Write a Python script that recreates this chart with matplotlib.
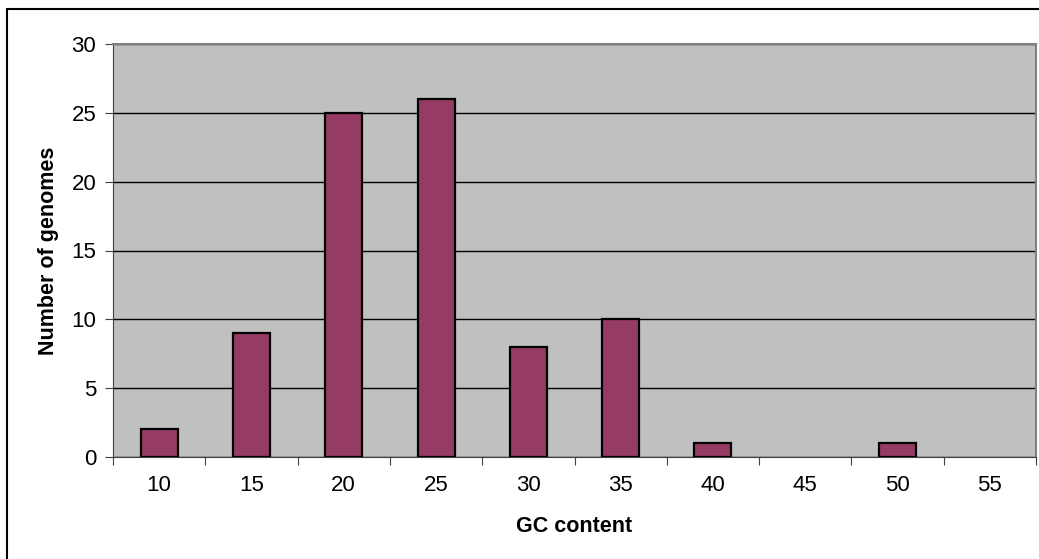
import numpy as np
import matplotlib.pyplot as plt
from matplotlib.patches import Rectangle

plt.rcParams['font.family'] = ['Liberation Sans', 'DejaVu Sans']

# data
gc_bins = ["10", "15", "20", "25", "30", "35", "40", "45", "50", "55"]
genome_counts = [2, 9, 25, 26, 8, 10, 1, 0, 1, 0]
y_ticks = [0, 5, 10, 15, 20, 25, 30]

W, H = 1039, 559
fig = plt.figure(figsize=(W / 100, H / 100), dpi=100)

# outer chart frame (Excel style)
fig.patches.append(Rectangle((7 / W, -0.1), 1.2, 1 - 9 / H + 0.1,
                             transform=fig.transFigure, fill=False,
                             edgecolor="black", linewidth=1.5))

ax = fig.add_axes([113 / W, 1 - 457 / H, (1036 - 113) / W, (457 - 44) / H])
ax.set_facecolor("#c0c0c0")

x = np.arange(len(gc_bins))
counts = np.array(genome_counts)
# empty bins get no outline, like in Excel
nz = counts > 0
ax.bar(x[nz], counts[nz], width=0.4, color="#953b64",
       edgecolor="black", linewidth=1.6, zorder=3)

ax.set_xlim(-0.5, len(gc_bins) - 0.5)
ax.set_ylim(0, 30)
ax.set_yticks(y_ticks)
ax.yaxis.grid(True, color="black", linewidth=1, zorder=1)

# ticks at the category boundaries, labels in the middle
ax.set_xticks(np.arange(len(gc_bins) + 1) - 0.5)
ax.set_xticklabels([])
ax.set_xticks(x, minor=True)
ax.set_xticklabels(gc_bins, minor=True)
ax.tick_params(axis="x", which="minor", length=0, pad=13, labelsize=16)
ax.tick_params(axis="x", which="major", length=6, color="#404040")
ax.tick_params(axis="y", length=6, color="#404040", labelsize=16, pad=6)

for side in ["top", "right"]:
    ax.spines[side].set_color("#808080")
    ax.spines[side].set_linewidth(1.5)
ax.spines["left"].set_color("#404040")
ax.spines["bottom"].set_color("#404040")
ax.spines["bottom"].set_zorder(4)

ax.set_xlabel("GC content", fontsize=15.5, fontweight="bold", labelpad=14)
ax.set_ylabel("Number of genomes", fontsize=15.5, fontweight="bold", labelpad=9)

fig.savefig("out.png", dpi=100)
